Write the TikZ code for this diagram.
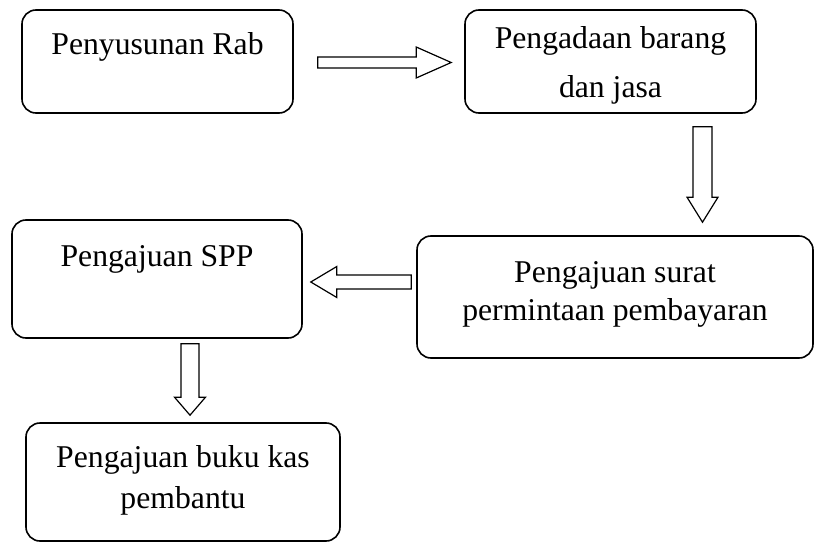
\documentclass[tikz,border=0pt]{standalone}
\usepackage{fontspec}
\setmainfont{Liberation Serif}
\usetikzlibrary{calc}

% hollow block arrow between two named coordinates
\newcommand{\hollowarrow}[4]{%
  \pgfpointdiff{\pgfpointanchor{#1}{center}}{\pgfpointanchor{#2}{center}}%
  \pgfgetlastxy{\hadx}{\hady}%
  \pgfmathsetmacro{\harot}{atan2(\hady,\hadx)}%
  \pgfmathsetmacro{\halen}{veclen(\hadx,\hady)}%
  \begin{scope}[shift={(#1)}, rotate=\harot]
    \draw[hollow] (0,#3) -- (\halen-#4,#3) -- (\halen-#4,15.5) -- (\halen,0)
      -- (\halen-#4,-15.5) -- (\halen-#4,-#3) -- (0,-#3) -- cycle;
  \end{scope}}

\begin{document}
\begin{tikzpicture}[
    x=1pt, y=1pt,
    box/.style={
        rectangle, draw, rounded corners=14pt,
        line width=1.6pt, inner sep=0pt,
        align=center, text height=22pt,
        font=\fontsize{31.7}{38}\selectfont
    },
    hollow/.style={draw, fill=white, line width=1.2pt, line join=miter}
]
\useasboundingbox (0,0) rectangle (814,-543);

% --- boxes ---
\node[box, minimum width=271pt, minimum height=103pt, text depth=35pt]
    (rab) at (157.5,-61.5) {Penyusunan Rab};
\node[box, minimum width=291pt, minimum height=103pt, text height=78pt, text depth=7pt]
    (pengadaan) at (610.5,-61.5) {Pengadaan barang\\[10pt]dan jasa};
\node[box, minimum width=396pt, minimum height=122pt, text height=53pt, text depth=7pt]
    (surat) at (615,-297) {Pengajuan surat\\permintaan pembayaran};
\node[box, minimum width=290pt, minimum height=118pt, text depth=48pt]
    (spp) at (157,-279) {Pengajuan SPP};
\node[box, minimum width=314pt, minimum height=118pt, text height=59pt, text depth=7pt]
    (bku) at (183,-482) {Pengajuan buku kas\\[3pt]pembantu};

% --- arrows ---
\coordinate (a1s) at ($(rab.east)+(24,-1)$);
\coordinate (a1e) at ($(pengadaan.west)+(-13,-1)$);
\hollowarrow{a1s}{a1e}{5.5}{35}

\coordinate (a2s) at ($(pengadaan.south)+(92,-13)$);
\coordinate (a2e) at ($(surat.north)+(87.5,13)$);
\hollowarrow{a2s}{a2e}{9.5}{25}

\coordinate (a3s) at ($(surat.west)+(-5,15)$);
\coordinate (a3e) at ($(spp.east)+(8,-3)$);
\hollowarrow{a3s}{a3e}{7}{26}

\coordinate (a4s) at ($(spp.south)+(33,-5)$);
\coordinate (a4e) at ($(bku.north)+(7,7)$);
\hollowarrow{a4s}{a4e}{9}{18}

\end{tikzpicture}
\end{document}
